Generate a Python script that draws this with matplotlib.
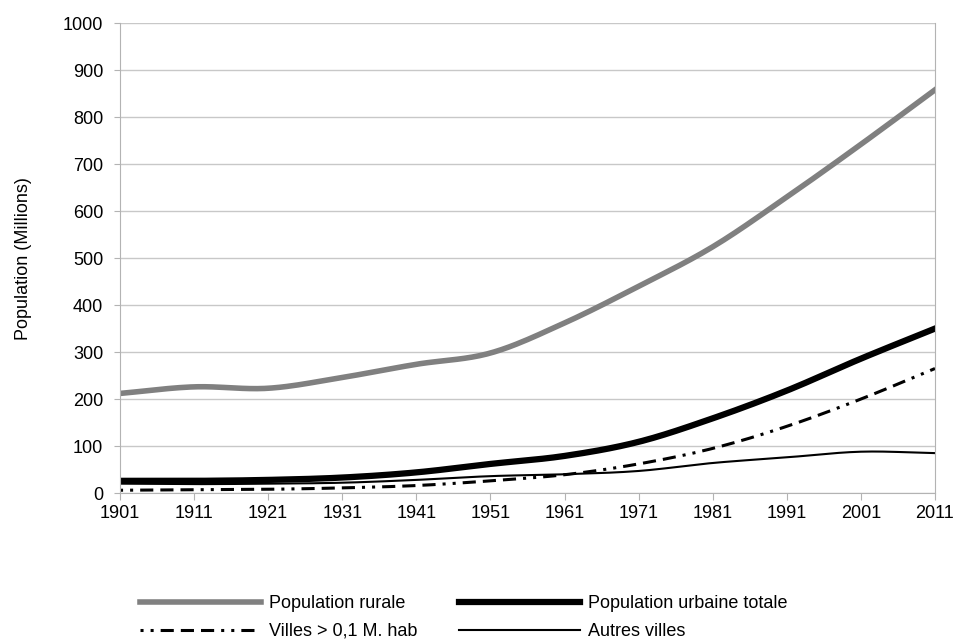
import numpy as np
import matplotlib
matplotlib.use("Agg")
import matplotlib.pyplot as plt

years = [1901, 1911, 1921, 1931, 1941, 1951, 1961, 1971, 1981, 1991, 2001, 2011]
rurale = [212, 226, 223, 246, 274, 298, 362, 440, 524, 630, 742, 858]
urbaine = [26, 26, 28, 33, 44, 62, 79, 109, 159, 218, 286, 350]
grandes = [6, 7, 8, 11, 16, 26, 39, 62, 95, 142, 200, 265]
autres = [20, 19, 20, 22, 28, 36, 40, 47, 64, 76, 88, 85]

plt.rcParams['font.family'] = ['Liberation Sans', 'DejaVu Sans']


def smooth(x, y, n=20):
    # catmull-rom, close to the spreadsheet "smoothed line"
    x = np.asarray(x, float)
    y = np.asarray(y, float)
    px = np.concatenate([[2 * x[0] - x[1]], x, [2 * x[-1] - x[-2]]])
    py = np.concatenate([[2 * y[0] - y[1]], y, [2 * y[-1] - y[-2]]])
    xs, ys = [], []
    t = np.linspace(0, 1, n, endpoint=False)
    for i in range(1, len(px) - 2):
        for p, out in ((px, xs), (py, ys)):
            p0, p1, p2, p3 = p[i - 1], p[i], p[i + 1], p[i + 2]
            out.extend(0.5 * (2 * p1 + (-p0 + p2) * t
                              + (2 * p0 - 5 * p1 + 4 * p2 - p3) * t ** 2
                              + (-p0 + 3 * p1 - 3 * p2 + p3) * t ** 3))
    xs.append(x[-1])
    ys.append(y[-1])
    return xs, ys


fig = plt.figure(figsize=(9.57, 6.42), dpi=100)
ax = fig.add_axes([0.1254, 0.232, 0.8516, 0.732])

l1, = ax.plot(*smooth(years, rurale), color="#808080", lw=4, label="Population rurale")
l2, = ax.plot(*smooth(years, urbaine), color="black", lw=4.5, label="Population urbaine totale")
l3, = ax.plot(*smooth(years, grandes), color="black", lw=2.2,
              ls=(19.8, (4.3, 2.3, 4.3, 2.3, 4.3, 2.3, 1, 2.3, 1, 2.3)),
              label="Villes > 0,1 M. hab")
l4, = ax.plot(*smooth(years, autres), color="black", lw=1.5, label="Autres villes")

ax.set_xlim(1901, 2011)
ax.set_ylim(0, 1000)
ax.set_xticks(years)
ax.set_yticks(range(0, 1001, 100))
ax.tick_params(axis="both", labelsize=13, color="#b3b3b3", length=5)
ax.tick_params(axis="y", length=4, pad=8)
ax.grid(axis="y", color="#c8c8c8", lw=1)
ax.set_axisbelow(True)
for s in ax.spines.values():
    s.set_color("#b3b3b3")
ax.spines["top"].set_visible(False)
ax.set_ylabel("Population (Millions)", fontsize=13, labelpad=22)

fig.legend([l1, l3, l2, l4], [l.get_label() for l in (l1, l3, l2, l4)],
           loc="lower center", bbox_to_anchor=(0.485, -0.022), ncol=2, frameon=False,
           fontsize=13, handlelength=6.7, columnspacing=2.3, handletextpad=0.45,
           labelspacing=0.6)

fig.savefig("out.png", dpi=100)
